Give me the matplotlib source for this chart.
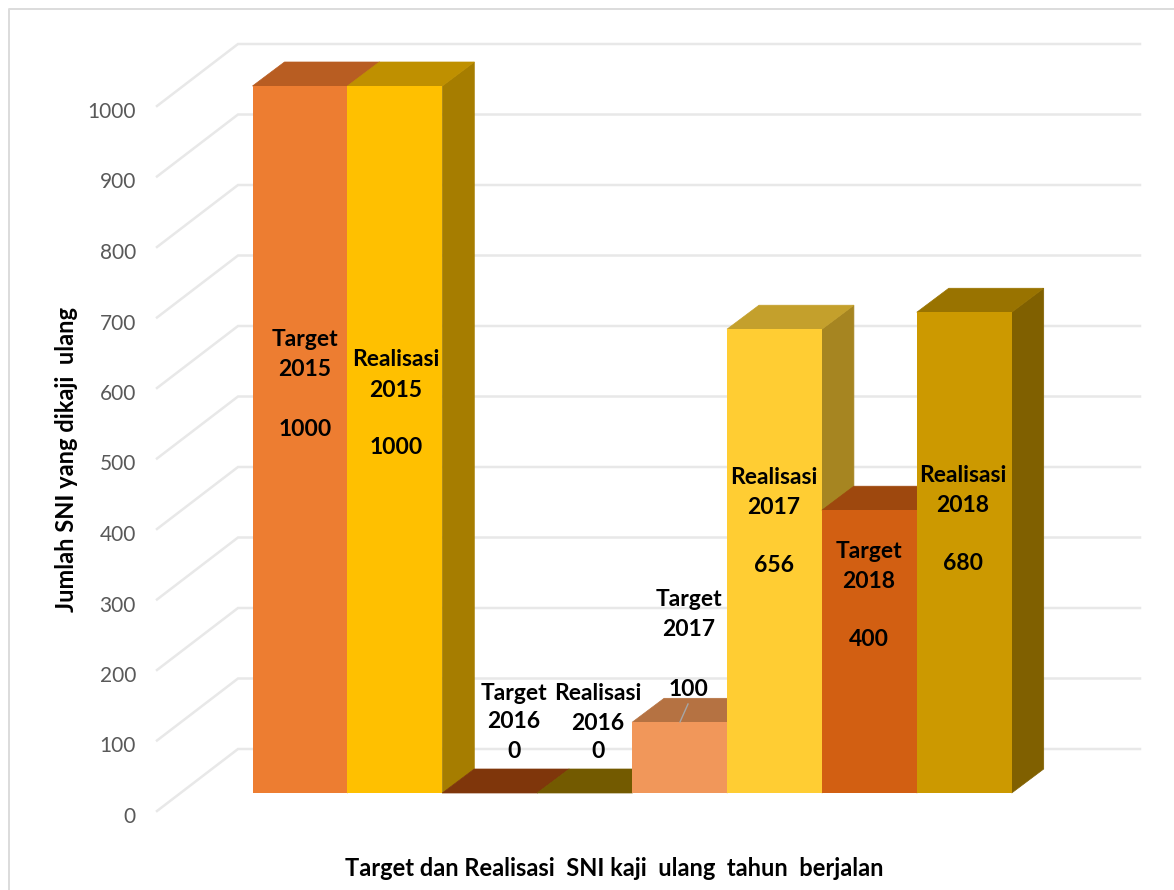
import matplotlib
matplotlib.use("Agg")
import matplotlib.pyplot as plt

plt.rcParams['font.family'] = ['Lato', 'DejaVu Sans']

# data
categories = ["Target 2015", "Realisasi 2015", "Target 2016", "Realisasi 2016",
              "Target 2017", "Realisasi 2017", "Target 2018", "Realisasi 2018"]
values = [1000, 1000, 0, 0, 100, 656, 400, 680]
y_ticks = [0, 100, 200, 300, 400, 500, 600, 700, 800, 900, 1000]

x_title = "Target dan Realisasi  SNI kaji  ulang  tahun  berjalan"
y_title = "Jumlah SNI yang dikaji  ulang"

front_colors = ["#ED7D31", "#FFC000", "#A5480F", "#997300",
                "#F1975A", "#FFCD33", "#D25F12", "#CC9900"]
top_colors = ["#B85D22", "#BF9000", "#7F360B", "#735A00",
              "#B57242", "#C4A02C", "#9E480E", "#997300"]
side_colors = ["#B25E25", "#A67D00", "#7F360B", "#735A00",
               "#B57242", "#A68521", "#9E480E", "#806000"]

# pixel layout of the picture
W, H = 1174, 890
BAR_LEFT = 252.5
BAR_STEP = 94.9
BASE_Y = 793
PX_PER_UNIT = 0.707
DEPTH_X = 32
DEPTH_Y = 24


def px_x(px):
    return (px - BAR_LEFT) / BAR_STEP


def px_y(px):
    return (BASE_Y - px) / PX_PER_UNIT


fig = plt.figure(figsize=(W / 100, H / 100), dpi=100)
ax = fig.add_axes([0, 0, 1, 1])
ax.set_xlim(px_x(0), px_x(W))
ax.set_ylim(px_y(H), px_y(0))
ax.axis("off")

# chart frame
ax.plot([px_x(9), px_x(9), px_x(W)], [px_y(H), px_y(9), px_y(9)],
        color="#DCDCDC", lw=1.4, zorder=1)

# gridlines: slanted floor part then back wall
grid_color = "#E8E8E8"
for tick in y_ticks:
    back_y = 749 - tick * 0.705
    ax.plot([px_x(157), px_x(238), px_x(1140)],
            [px_y(back_y + 62), px_y(back_y), px_y(back_y)],
            color=grid_color, lw=1.8, zorder=1, solid_joinstyle="miter")
    ax.text(px_x(136), px_y(back_y + 68), str(tick), ha="right", va="center",
            fontsize=15, color="#595959", zorder=2)

# bars, left to right so that each one covers the side of the previous one
dx = DEPTH_X / BAR_STEP
dy = DEPTH_Y / PX_PER_UNIT
for i, value in enumerate(values):
    z = 3 + i
    ax.fill([i + 1, i + 1 + dx, i + 1 + dx, i + 1],
            [0, dy, value + dy, value],
            color=side_colors[i], lw=0.5, zorder=z)
    ax.fill([i, i + dx, i + 1 + dx, i + 1],
            [value, value + dy, value + dy, value],
            color=top_colors[i], lw=0.5, zorder=z)
    ax.bar(i, value, width=1, align="edge", color=front_colors[i], lw=0, zorder=z)

# data labels
label_x = [305, 396, 514, 598, 689, 774, 869, 963]
label_y = [[338, 368, 427], [358, 388, 446], [691, 720, 750], [691, 721, 750],
           [598, 628, 687], [475, 505, 563], [549, 579, 637], [473, 503, 561]]
for i, name in enumerate(categories):
    word, year = name.split()
    for text, py in zip([word, year, str(values[i])], label_y[i]):
        ax.text(px_x(label_x[i]), px_y(py + 2), text, ha="center", va="center",
                fontsize=16.5, fontweight="bold", color="black", zorder=20)

# leader line of the 2017 target label
ax.plot([px_x(688), px_x(680)], [px_y(704), px_y(722)], color="#A6A6A6", lw=1, zorder=19)

# axis titles
ax.text(px_x(614), px_y(869), x_title, ha="center", va="center",
        fontsize=17, fontweight="bold", color="black", zorder=20)
ax.text(px_x(67), px_y(459), y_title, ha="center", va="center", rotation=90,
        fontsize=17, fontweight="bold", color="black", zorder=20)

fig.savefig("out.png", dpi=100)
